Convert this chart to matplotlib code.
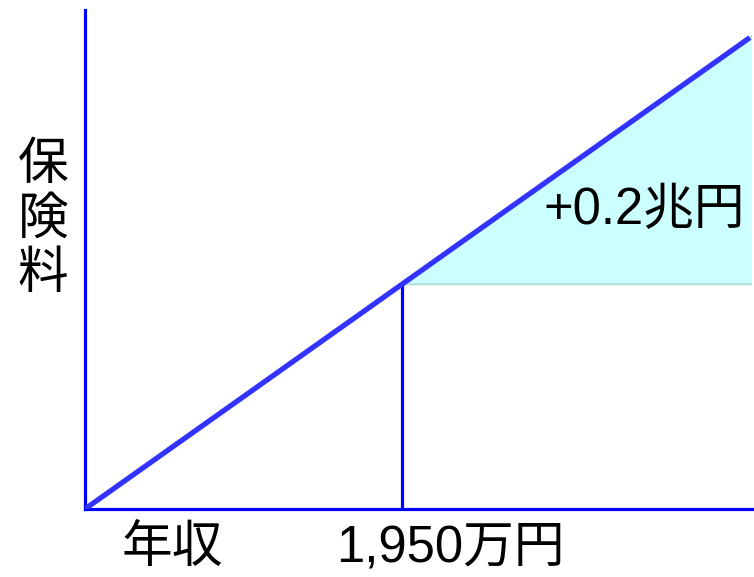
import matplotlib
matplotlib.use("Agg")
import matplotlib.pyplot as plt
import numpy as np

plt.rcParams['font.family'] = ['Liberation Sans', 'Noto Sans CJK JP', 'DejaVu Sans']

# data (income in 万円, premium in proportional units)
income = [0, 1950, 4090]
premium = [0, 1950, 4090]
threshold = 1950
fill_right = 4110
x_label = "年収"
threshold_label = "1,950万円"
y_label = "保険料"
increase_label = "+0.2兆円"

W, H = 754, 577
fig = plt.figure(figsize=(W / 100, H / 100), dpi=100)
ax_l, ax_r, ax_b, ax_t = 85, 752, 509, 10
ax = fig.add_axes([ax_l / W, (H - ax_b) / H, (ax_r - ax_l) / W, (ax_b - ax_t) / H])

px_per_x = (402 - 85) / threshold
xmax = (ax_r - ax_l) / px_per_x
ymax = (ax_b - ax_t) / (px_per_x * 0.709)
ax.set_xlim(0, xmax)
ax.set_ylim(0, ymax)

slope = premium[-1] / income[-1]
yt = premium[1]
# cyan region above threshold level
poly_x = [threshold, fill_right, fill_right]
poly_y = [yt, slope * fill_right, yt]
ax.fill(poly_x, poly_y, facecolor='#ccffff', edgecolor='#b3dede', linewidth=1.5, zorder=1)

# vertical line at threshold
ax.plot([threshold, threshold], [0, yt], color='#0000ff', linewidth=2.3, zorder=2,
        solid_capstyle='butt')

# main line
ax.plot(income, premium, color='#3333ff', linewidth=3.8, zorder=3, solid_capstyle='butt')

for s in ['top', 'right']:
    ax.spines[s].set_visible(False)
for s in ['left', 'bottom']:
    ax.spines[s].set_color('#0000ff')
    ax.spines[s].set_linewidth(2.3)
ax.set_xticks([])
ax.set_yticks([])
ax.patch.set_alpha(0)

fs = 36.5
fig.text(644 / W, 1 - 211 / H, increase_label, fontsize=fs, ha='center', va='center')
fig.text(172 / W, 1 - 548 / H, x_label, fontsize=fs, ha='center', va='center')
fig.text(450 / W, 1 - 548 / H, threshold_label, fontsize=fs, ha='center', va='center')
fig.text(43 / W, 1 - 220 / H, "\n".join(y_label), fontsize=fs, ha='center', va='center',
         linespacing=1.15)

fig.savefig("out.png", dpi=100)
